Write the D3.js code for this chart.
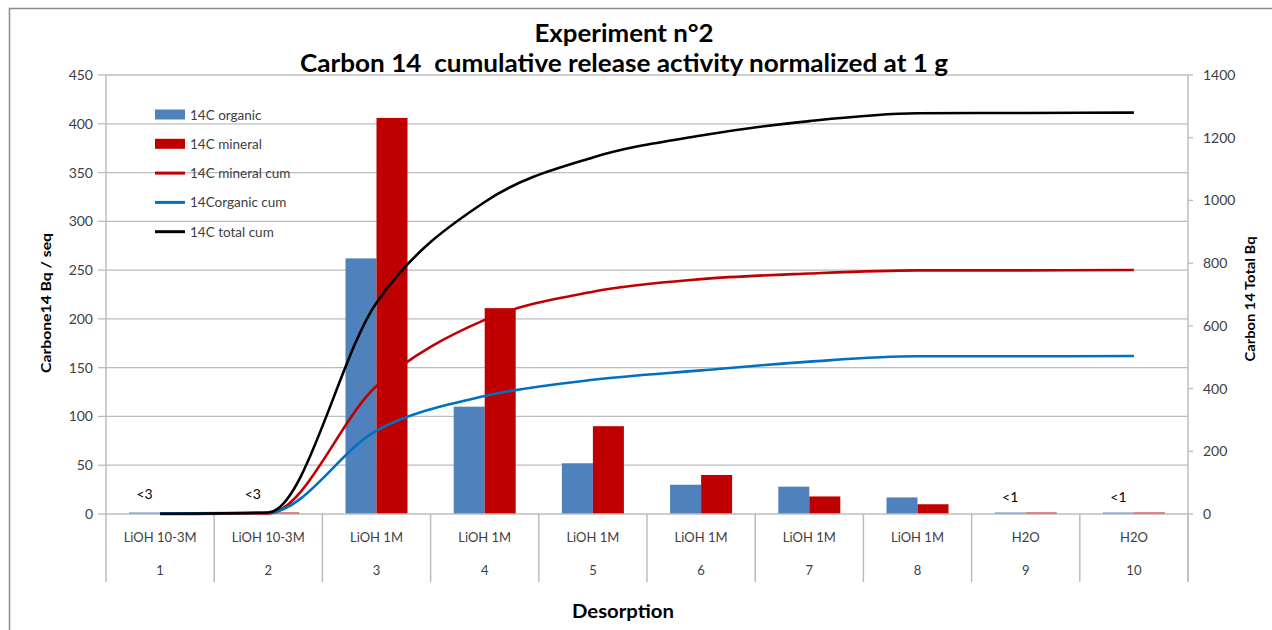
<!DOCTYPE html>
<html lang="en">
<head>
    <meta charset="UTF-8">
    <title>Experiment n°2</title>
    <script src="https://cdn.jsdelivr.net/npm/d3@7"></script>
</head>
<style>
    body{
        margin:0;
        background:#fff;
    }
    #chart text{
        font-family: Lato, "Open Sans", sans-serif;
    }
</style>
<body>
<div id="chart"></div>
</body>
</html>
<script>
    // values
    var steps = ["1", "2", "3", "4", "5", "6", "7", "8", "9", "10"];
    var media = ["LiOH 10-3M", "LiOH 10-3M", "LiOH 1M", "LiOH 1M", "LiOH 1M", "LiOH 1M", "LiOH 1M", "LiOH 1M", "H2O", "H2O"];
    var organic = [1.5, 2, 262, 110, 52, 30, 28, 17, 1.5, 1.5];
    var mineral = [0, 1.5, 406, 211, 90, 40, 18, 10, 1.5, 1.5];
    var mineralCum = [0, 2, 408, 619, 709, 749, 767, 777, 777, 778];
    var organicCum = [2, 4, 266, 376, 428, 458, 486, 503, 503, 504];
    var totalCum = [1, 5, 674, 995, 1137, 1207, 1253, 1278, 1279, 1280];
    var barLabels = ["<3", "<3", "", "", "", "", "", "", "<1", "<1"];
    var leftTicks = [0, 50, 100, 150, 200, 250, 300, 350, 400, 450];
    var rightTicks = [0, 200, 400, 600, 800, 1000, 1200, 1400];

    (function(){
        var W = 1272, H = 630;
        var left = 106, right = 1188, top = 75, bottom = 514;
        var grid = "#bcbcbc", txt = "#404040";

        var svg = d3.select("#chart").append("svg")
            .attr("width", W).attr("height", H);

        svg.append("rect").attr("width", W).attr("height", H).attr("fill", "#fff");
        // outer chart frame (only top/left visible in the crop)
        svg.append("path").attr("d", "M9.5," + H + "V8.5H" + W)
            .attr("fill", "none").attr("stroke", "#8c8c8c").attr("stroke-width", 1.5);

        var x = d3.scaleBand().domain(steps).range([left, right]).padding(0);
        var xs = d3.scaleBand().domain(["organic", "mineral"])
            .range([0, x.bandwidth()]).paddingInner(0).paddingOuter(0.745);
        var y = d3.scaleLinear().domain([0, 450]).range([bottom, top]);
        var y2 = d3.scaleLinear().domain([0, 1400]).range([bottom, top]);

        // horizontal gridlines
        svg.append("g").selectAll("line").data(leftTicks.slice(1)).join("line")
            .attr("x1", left).attr("x2", right)
            .attr("y1", function(d){ return y(d); }).attr("y2", function(d){ return y(d); })
            .attr("stroke", grid).attr("stroke-width", 1.3);

        // bars
        var rows = steps.map(function(s, i){
            return {step: s, organic: organic[i], mineral: mineral[i]};
        });
        var colors = {organic: "#4f81bd", mineral: "#c00000"};
        svg.append("g").selectAll("g").data(rows).join("g")
            .attr("transform", function(d){ return "translate(" + x(d.step) + ",0)"; })
            .selectAll("rect")
            .data(function(d){ return ["organic", "mineral"].map(function(k){ return {key: k, v: d[k]}; }); })
            .join("rect")
            .attr("x", function(d){ return xs(d.key); })
            .attr("width", xs.bandwidth())
            .attr("y", function(d){ return y(d.v); })
            .attr("height", function(d){ return bottom - y(d.v); })
            .attr("fill", function(d){ return colors[d.key]; });

        // category axis
        svg.append("line").attr("x1", left).attr("x2", right)
            .attr("y1", bottom).attr("y2", bottom)
            .attr("stroke", grid).attr("stroke-width", 1.5);
        var bounds = steps.map(function(s){ return x(s); }).concat([right]);
        svg.append("g").selectAll("line").data(bounds).join("line")
            .attr("x1", function(d){ return d; }).attr("x2", function(d){ return d; })
            .attr("y1", bottom).attr("y2", 582)
            .attr("stroke", grid).attr("stroke-width", 1.5);
        var cats = svg.append("g").attr("fill", txt).attr("font-size", 13).attr("text-anchor", "middle");
        cats.selectAll("text.med").data(steps).join("text").attr("class", "med")
            .attr("x", function(d){ return x(d) + x.bandwidth() / 2; })
            .attr("y", 542)
            .text(function(d, i){ return media[i]; });
        cats.selectAll("text.num").data(steps).join("text").attr("class", "num")
            .attr("x", function(d){ return x(d) + x.bandwidth() / 2; })
            .attr("y", 575)
            .text(function(d){ return d; });

        // left axis
        svg.append("line").attr("x1", left).attr("x2", left).attr("y1", top).attr("y2", bottom)
            .attr("stroke", grid).attr("stroke-width", 1.5);
        var ly = svg.append("g");
        ly.selectAll("line").data(leftTicks).join("line")
            .attr("x1", 98).attr("x2", left)
            .attr("y1", function(d){ return y(d); }).attr("y2", function(d){ return y(d); })
            .attr("stroke", grid).attr("stroke-width", 1.3);
        ly.selectAll("text").data(leftTicks).join("text")
            .attr("x", 93).attr("y", function(d){ return y(d) + 5; })
            .attr("text-anchor", "end").attr("font-size", 14).attr("fill", txt)
            .text(function(d){ return d; });

        // right axis
        svg.append("line").attr("x1", right).attr("x2", right).attr("y1", top).attr("y2", 582)
            .attr("stroke", grid).attr("stroke-width", 1.5);
        var ry = svg.append("g");
        ry.selectAll("line").data(rightTicks).join("line")
            .attr("x1", right).attr("x2", right + 5)
            .attr("y1", function(d){ return y2(d); }).attr("y2", function(d){ return y2(d); })
            .attr("stroke", grid).attr("stroke-width", 1.3);
        ry.selectAll("text").data(rightTicks).join("text")
            .attr("x", 1203).attr("y", function(d){ return y2(d) + 5; })
            .attr("font-size", 14).attr("fill", txt)
            .text(function(d){ return d; });

        // cumulative lines on the right axis
        var line = d3.line()
            .x(function(d, i){ return x(steps[i]) + x.bandwidth() / 2; })
            .y(function(d){ return y2(d); })
            .curve(d3.curveMonotoneX);
        var series = [
            {vals: mineralCum, color: "#c00000"},
            {vals: organicCum, color: "#0070c0"},
            {vals: totalCum, color: "#000"}
        ];
        svg.append("g").selectAll("path").data(series).join("path")
            .attr("d", function(d){ return line(d.vals); })
            .attr("fill", "none")
            .attr("stroke", function(d){ return d.color; })
            .attr("stroke-width", 2.6);

        // "<3" / "<1" labels over organic bars
        svg.append("g").selectAll("text").data(steps).join("text")
            .attr("x", function(d){ return x(d) + xs("organic") + xs.bandwidth() / 2; })
            .attr("y", function(d, i){ return i < 2 ? 499 : 502; })
            .attr("text-anchor", "middle").attr("font-size", 14).attr("fill", "#000")
            .text(function(d, i){ return barLabels[i]; });

        // legend
        var legend = [
            {name: "14C organic", color: "#4f81bd", type: "bar"},
            {name: "14C mineral", color: "#c00000", type: "bar"},
            {name: "14C mineral cum", color: "#c00000", type: "line"},
            {name: "14Corganic cum", color: "#0070c0", type: "line"},
            {name: "14C total cum", color: "#000", type: "line"}
        ];
        var lg = svg.append("g").selectAll("g").data(legend).join("g")
            .attr("transform", function(d, i){ return "translate(155," + (114.5 + i * 29.3) + ")"; });
        lg.filter(function(d){ return d.type == "bar"; }).append("rect")
            .attr("x", 0).attr("y", -5).attr("width", 30).attr("height", 10)
            .attr("fill", function(d){ return d.color; });
        lg.filter(function(d){ return d.type == "line"; }).append("line")
            .attr("x1", 0).attr("x2", 30)
            .attr("stroke", function(d){ return d.color; }).attr("stroke-width", 3);
        lg.append("text").attr("x", 35).attr("y", 5)
            .attr("font-size", 13.5).attr("fill", txt)
            .text(function(d){ return d.name; });

        // titles
        svg.append("text").attr("x", 624).attr("y", 42)
            .attr("text-anchor", "middle").attr("font-size", 24).attr("font-weight", "bold")
            .attr("textLength", 179).attr("lengthAdjust", "spacingAndGlyphs")
            .text("Experiment n°2");
        svg.append("text").attr("x", 624).attr("y", 72)
            .attr("text-anchor", "middle").attr("font-size", 24).attr("font-weight", "bold")
            .style("white-space", "pre")
            .attr("textLength", 648).attr("lengthAdjust", "spacingAndGlyphs")
            .text("Carbon 14  cumulative release activity normalized at 1 g");
        svg.append("text").attr("transform", "translate(51,303) rotate(-90)")
            .attr("text-anchor", "middle").attr("font-size", 13).attr("font-weight", "bold")
            .attr("textLength", 140).attr("lengthAdjust", "spacingAndGlyphs")
            .text("Carbone14 Bq / seq");
        svg.append("text").attr("transform", "translate(1255,299) rotate(-90)")
            .attr("text-anchor", "middle").attr("font-size", 13).attr("font-weight", "bold")
            .attr("textLength", 125).attr("lengthAdjust", "spacingAndGlyphs")
            .text("Carbon 14 Total Bq");
        svg.append("text").attr("x", 623).attr("y", 618)
            .attr("text-anchor", "middle").attr("font-size", 19).attr("font-weight", "bold")
            .attr("textLength", 102).attr("lengthAdjust", "spacingAndGlyphs")
            .text("Desorption");
    }());
</script>
